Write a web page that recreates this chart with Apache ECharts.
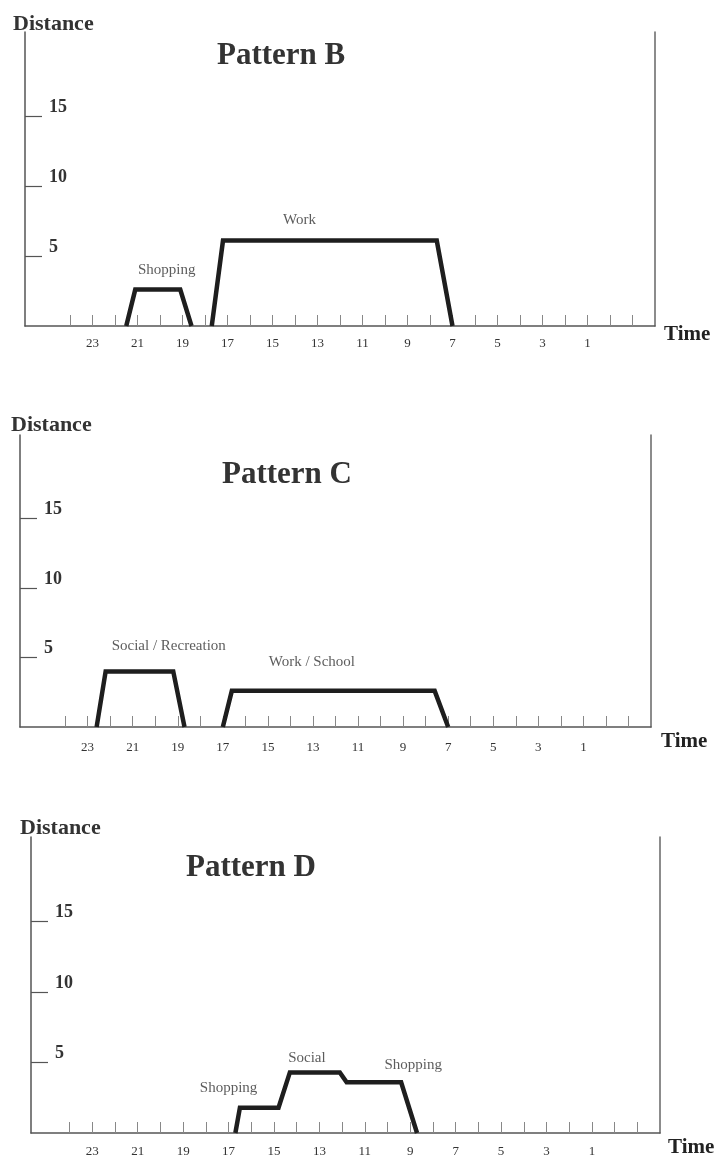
<!DOCTYPE html>
<html><head><meta charset="utf-8">
<script src="https://cdn.jsdelivr.net/npm/echarts@6/dist/echarts.min.js"></script>
<style>html,body{margin:0;padding:0;background:#fff}#c{width:722px;height:1161px}</style>
</head><body><div id="c"></div>
<script>
// ---- data ----
const timeLabels = [23,21,19,17,15,13,11,9,7,5,3,1];
const hourTicks = [24,23,22,21,20,19,18,17,16,15,14,13,12,11,10,9,8,7,6,5,4,3,2,1,0,-1];
const distanceTicks = [5,10,15];

const patternB_shopping_time = [21.5,21.1,19.1,18.6];
const patternB_shopping_dist = [0,2.6,2.6,0];
const patternB_work_time = [17.7,17.2,7.7,7.0];
const patternB_work_dist = [0,6.1,6.1,0];

const patternC_social_time = [22.6,22.2,19.2,18.7];
const patternC_social_dist = [0,4.0,4.0,0];
const patternC_work_time = [17.0,16.6,7.6,7.0];
const patternC_work_dist = [0,2.6,2.6,0];

const patternD_trip_time = [16.7,16.5,14.8,14.3,12.1,11.8,9.4,8.7];
const patternD_trip_dist = [0,1.8,1.8,4.3,4.3,3.6,3.6,0];

const patternB_label_names = ['Shopping','Work'];
const patternB_label_time = [19.7,13.8];
const patternB_label_dist = [4.0,7.6];
const patternC_label_names = ['Social / Recreation','Work / School'];
const patternC_label_time = [19.4,13.05];
const patternC_label_dist = [5.8,4.7];
const patternD_label_names = ['Shopping','Social','Shopping'];
const patternD_label_time = [17.0,13.55,8.87];
const patternD_label_dist = [3.2,5.3,4.8];

const panelTitles = ['Pattern B','Pattern C','Pattern D'];
const yAxisName = 'Distance';
const xAxisName = 'Time';

// ---- layout ----
const FONT = '"Liberation Serif", "DejaVu Serif", serif';
const layout = [
  {left:25, right:67, top:32, height:294, xMax:26, labelMargin:11,
   timeX:664, timeY:324, distX:13, distY:13, titleX:217, titleY:40},
  {left:20, right:71, top:435, height:292, xMax:26, labelMargin:14,
   timeX:661, timeY:731, distX:11, distY:414, titleX:222, titleY:459},
  {left:31, right:62, top:837, height:296, xMax:25.7, labelMargin:12,
   timeX:668, timeY:1137, distX:20, distY:817, titleX:186, titleY:852}
];

const pairs = (t, d) => t.map((v, i) => [v, d[i]]);
const lineSets = [
  [pairs(patternB_shopping_time, patternB_shopping_dist), pairs(patternB_work_time, patternB_work_dist)],
  [pairs(patternC_social_time, patternC_social_dist), pairs(patternC_work_time, patternC_work_dist)],
  [pairs(patternD_trip_time, patternD_trip_dist)]
];
const labelSets = [
  patternB_label_names.map((n, i) => ({name:n, value:[patternB_label_time[i], patternB_label_dist[i]]})),
  patternC_label_names.map((n, i) => ({name:n, value:[patternC_label_time[i], patternC_label_dist[i]]})),
  patternD_label_names.map((n, i) => ({name:n, value:[patternD_label_time[i], patternD_label_dist[i]]}))
];

const grid = [], xAxis = [], yAxis = [], series = [], title = [];
layout.forEach((L, k) => {
  grid.push({left:L.left, right:L.right, top:L.top, height:L.height, containLabel:false});
  xAxis.push({
    type:'value', gridIndex:k, min:-2, max:L.xMax, inverse:true,
    axisLine:{show:true, onZero:false, lineStyle:{color:'#555', width:1.5}},
    axisTick:{show:true, inside:true, length:11, customValues:hourTicks, lineStyle:{color:'#888', width:1}},
    axisLabel:{show:true, customValues:timeLabels, margin:L.labelMargin, fontFamily:FONT, fontSize:13, color:'#333'},
    splitLine:{show:false}
  });
  yAxis.push({
    type:'value', gridIndex:k, min:0, max:21, position:'left',
    axisLine:{show:true, onZero:false, lineStyle:{color:'#555', width:1.5}},
    axisTick:{show:true, inside:true, length:17, customValues:distanceTicks, lineStyle:{color:'#555', width:1.2}},
    axisLabel:{show:true, inside:true, margin:24, customValues:distanceTicks, verticalAlign:'bottom',
      fontFamily:FONT, fontWeight:'bold', fontSize:18, color:'#333'},
    splitLine:{show:false}
  });
  yAxis.push({
    type:'value', gridIndex:k, min:0, max:21, position:'right',
    axisLine:{show:true, onZero:false, lineStyle:{color:'#666', width:1.5}},
    axisTick:{show:false}, axisLabel:{show:false}, splitLine:{show:false}
  });
  lineSets[k].forEach(d => series.push({
    type:'line', xAxisIndex:k, yAxisIndex:2*k, data:d, symbol:'none',
    lineStyle:{color:'#1e1e1e', width:4.5, join:'miter'}, silent:true
  }));
  series.push({
    type:'scatter', xAxisIndex:k, yAxisIndex:2*k, data:labelSets[k], symbolSize:0, silent:true,
    label:{show:true, position:'inside', formatter:p => p.name, fontFamily:FONT, fontSize:15, color:'#333'}
  });
  title.push({text:panelTitles[k], left:L.titleX, top:L.titleY, padding:0,
    textStyle:{fontFamily:FONT, fontWeight:'bold', fontSize:31, color:'#333'}});
  title.push({text:yAxisName, left:L.distX, top:L.distY, padding:0,
    textStyle:{fontFamily:FONT, fontWeight:'bold', fontSize:22, color:'#333'}});
  title.push({text:xAxisName, left:L.timeX, top:L.timeY, padding:0,
    textStyle:{fontFamily:FONT, fontWeight:'bold', fontSize:21, color:'#222'}});
});

const chart = echarts.init(document.getElementById('c'), null, {renderer:'canvas'});
chart.setOption({backgroundColor:'#fff', animation:false, title, grid, xAxis, yAxis, series});
</script>
</body></html>
